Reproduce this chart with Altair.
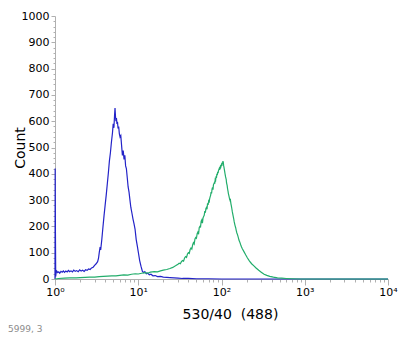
import altair as alt
import pandas as pd

# Blue histogram (x = channel value on log axis, y = count)
blue_x = [1.0, 1.005, 1.012, 1.02, 1.03, 1.05, 1.08, 1.11, 1.14, 1.18, 1.22, 1.26, 1.3, 1.35, 1.4,
          1.45, 1.5, 1.56, 1.62, 1.68, 1.75, 1.82, 1.9, 1.98, 2.06, 2.15, 2.24, 2.33, 2.43, 2.53,
          2.64, 2.75, 2.87, 2.99, 3.12, 3.25, 3.33, 3.4, 3.47, 3.55, 3.65, 3.76, 3.88, 4.0, 4.12,
          4.25, 4.38, 4.5, 4.63, 4.76, 4.9, 5.0, 5.1, 5.2, 5.26, 5.33, 5.4, 5.47, 5.55, 5.63, 5.72,
          5.82, 5.93, 6.05, 6.17, 6.3, 6.45, 6.6, 6.75, 6.9, 7.05, 7.2, 7.38, 7.56, 7.75, 7.95,
          8.15, 8.4, 8.65, 8.9, 9.15, 9.45, 9.75, 10.1, 10.4, 10.8, 11.2, 11.6, 12.0, 12.5, 13.0,
          13.6, 14.2, 15, 16, 17, 18.5, 20, 22, 24, 27, 30, 34, 40, 50, 70, 100, 200, 500, 1000, 10000]
blue_y = [0, 420, 180, 10, 22, 30, 24, 27, 22, 29, 26, 31, 25, 30, 27,
          33, 28, 31, 27, 34, 29, 32, 28, 35, 30, 33, 29, 35, 33, 38,
          36, 42, 45, 52, 58, 66, 78, 100, 118, 115, 150, 195, 240, 280, 318,
          362, 405, 448, 480, 520, 555, 590, 575, 625, 650, 618, 600, 612, 590, 598, 572,
          580, 552, 540, 545, 510, 470, 488, 455, 470, 430, 420, 385, 350, 330, 300,
          272, 250, 228, 210, 190, 150, 125, 95, 70, 48, 30, 24, 28, 20, 22,
          16, 18, 12, 13, 9, 10, 7, 6, 5, 4, 3, 2, 2, 1, 1, 0, 0, 0, 0, 0]

# Green histogram
green_x = [1.0, 1.1, 1.3, 1.5, 1.8, 2.0, 2.3, 2.6, 3.0, 3.4, 3.8, 4.3, 4.8, 5.4, 6.0, 6.7, 7.5,
           8.3, 9.2, 10, 11, 12, 13, 14, 15.5, 17, 18.5, 20, 22, 24, 26, 28,
           30, 31, 32, 33, 34, 35, 36, 37, 38, 39, 40, 41, 42, 43, 44, 45, 46, 47, 48, 49,
           50, 51, 52, 53, 54, 55, 56, 57, 58, 59, 60, 61, 62, 63, 64, 65, 66, 67, 68, 69,
           70, 71, 72, 73, 74, 75, 76, 77, 78, 79, 80, 82, 83, 84, 85, 86, 87, 88, 89, 90,
           91, 92, 94, 95, 97, 98, 100, 101, 102, 103, 104, 105, 106, 107, 108, 109, 110, 111,
           112, 114, 115, 117, 118, 120, 121, 123, 125, 127, 128, 130, 131, 133, 135, 137, 140,
           142, 145, 148, 150, 153, 156, 159, 162, 166, 170, 174, 178,
           186, 195, 205, 217, 230, 245, 260, 280, 300, 325, 350, 380, 420, 470, 530, 600, 700,
           900, 2000, 10000]
green_y = [0, 2, 3, 4, 4, 5, 6, 7, 7, 9, 10, 11, 12, 12, 14, 16, 15,
           18, 20, 19, 22, 24, 22, 26, 28, 27, 31, 34, 36, 40, 44, 50,
           56, 60, 58, 66, 70, 68, 80, 85, 82, 95, 100, 97, 112, 118, 114, 130, 138, 133, 152, 158,
           155, 172, 178, 170, 195, 200, 198, 220, 225, 212, 232, 238, 242, 258, 252, 268, 272, 265, 288, 282,
           295, 290, 305, 312, 318, 330, 325, 342, 348, 340, 358, 366, 362, 378, 375, 390, 384, 400, 395, 408,
           402, 412, 420, 415, 428, 425, 435, 430, 442, 438, 448, 444, 432, 425, 418, 410, 402, 395,
           388, 378, 365, 355, 345, 332, 325, 315, 305, 298, 300, 285, 280, 268, 255, 245, 230,
           218, 205, 195, 186, 175, 168, 158, 148, 140, 130, 122, 115,
           104, 92, 80, 68, 58, 50, 42, 33, 26, 18, 14, 10, 7, 4, 3, 2, 1,
           0, 0, 0]

x_ticks = [1, 2, 3, 4, 5, 6, 7, 8, 9, 10, 20, 30, 40, 50, 60, 70, 80, 90, 100,
           200, 300, 400, 500, 600, 700, 800, 900, 1000, 2000, 3000, 4000, 5000, 6000,
           7000, 8000, 9000, 10000]
y_ticks = list(range(0, 1001, 20))

blue = pd.DataFrame({"x": blue_x, "y": blue_y})
green = pd.DataFrame({"x": green_x, "y": green_y})

FONT = "DejaVu Sans"

x_enc = alt.X(
    "x:Q",
    scale=alt.Scale(type="log", domain=[1, 10000], nice=False),
    axis=alt.Axis(
        values=x_ticks,
        labelExpr="datum.value == 1 ? '10⁰' : datum.value == 10 ? '10¹' : datum.value == 100 ? '10²' : datum.value == 1000 ? '10³' : datum.value == 10000 ? '10⁴' : ''",
        tickSize={"condition": {"test": "indexof([1,10,100,1000,10000], datum.value) >= 0", "value": 6}, "value": 3},
        labelFlush=False,
        labelOverlap=False,
        grid=False,
        domainColor="#b0b0b0",
        tickColor="#b0b0b0",
        labelColor="#000000",
        labelFont=FONT,
        labelFontSize=11,
        labelPadding=1,
        title="530/40\u00a0 (488)",
        titleFont=FONT,
        titleFontSize=14,
        titleFontWeight="normal",
        titleColor="#000000",
        titleX=175,
        titleY=39,
        titleBaseline="alphabetic",
    ),
)

y_enc = alt.Y(
    "y:Q",
    scale=alt.Scale(domain=[0, 1000], nice=False),
    axis=alt.Axis(
        values=y_ticks,
        format="d",
        labelExpr="datum.value % 100 == 0 ? datum.label : ''",
        tickSize={"condition": {"test": "datum.value % 100 == 0", "value": 4}, "value": 2},
        labelOverlap=False,
        grid=False,
        domainColor="#b0b0b0",
        tickColor="#b0b0b0",
        labelColor="#000000",
        labelFont=FONT,
        labelFontSize=11,
        labelPadding=2,
        title="Count",
        titleFont=FONT,
        titleFontSize=14,
        titleFontWeight="normal",
        titleColor="#000000",
        titleX=-31,
        titleBaseline="alphabetic",
    ),
)

blue_line = alt.Chart(blue).mark_line(color="#2323c8", strokeWidth=1.2).encode(x=x_enc, y=y_enc)
green_line = alt.Chart(green).mark_line(color="#22ad6b", strokeWidth=1.2).encode(x=x_enc, y=y_enc)

chart = (
    alt.layer(blue_line, green_line)
    .properties(
        width=333,
        height=263,
        autosize=alt.AutoSizeParams(type="none"),
        padding={"left": 55, "top": 16, "right": 24, "bottom": 60},
        background="#ffffff",
        title=alt.TitleParams(
            text="5999, 3",
            orient="bottom",
            anchor="start",
            frame="bounds",
            fontSize=9,
            fontWeight="normal",
            font=FONT,
            color="#8c8c8c",
            offset=4,
            dx=-5,
        ),
    )
    .configure_view(stroke="transparent")
)

chart.save("out.html", embed_options={"renderer": "svg", "actions": False})
